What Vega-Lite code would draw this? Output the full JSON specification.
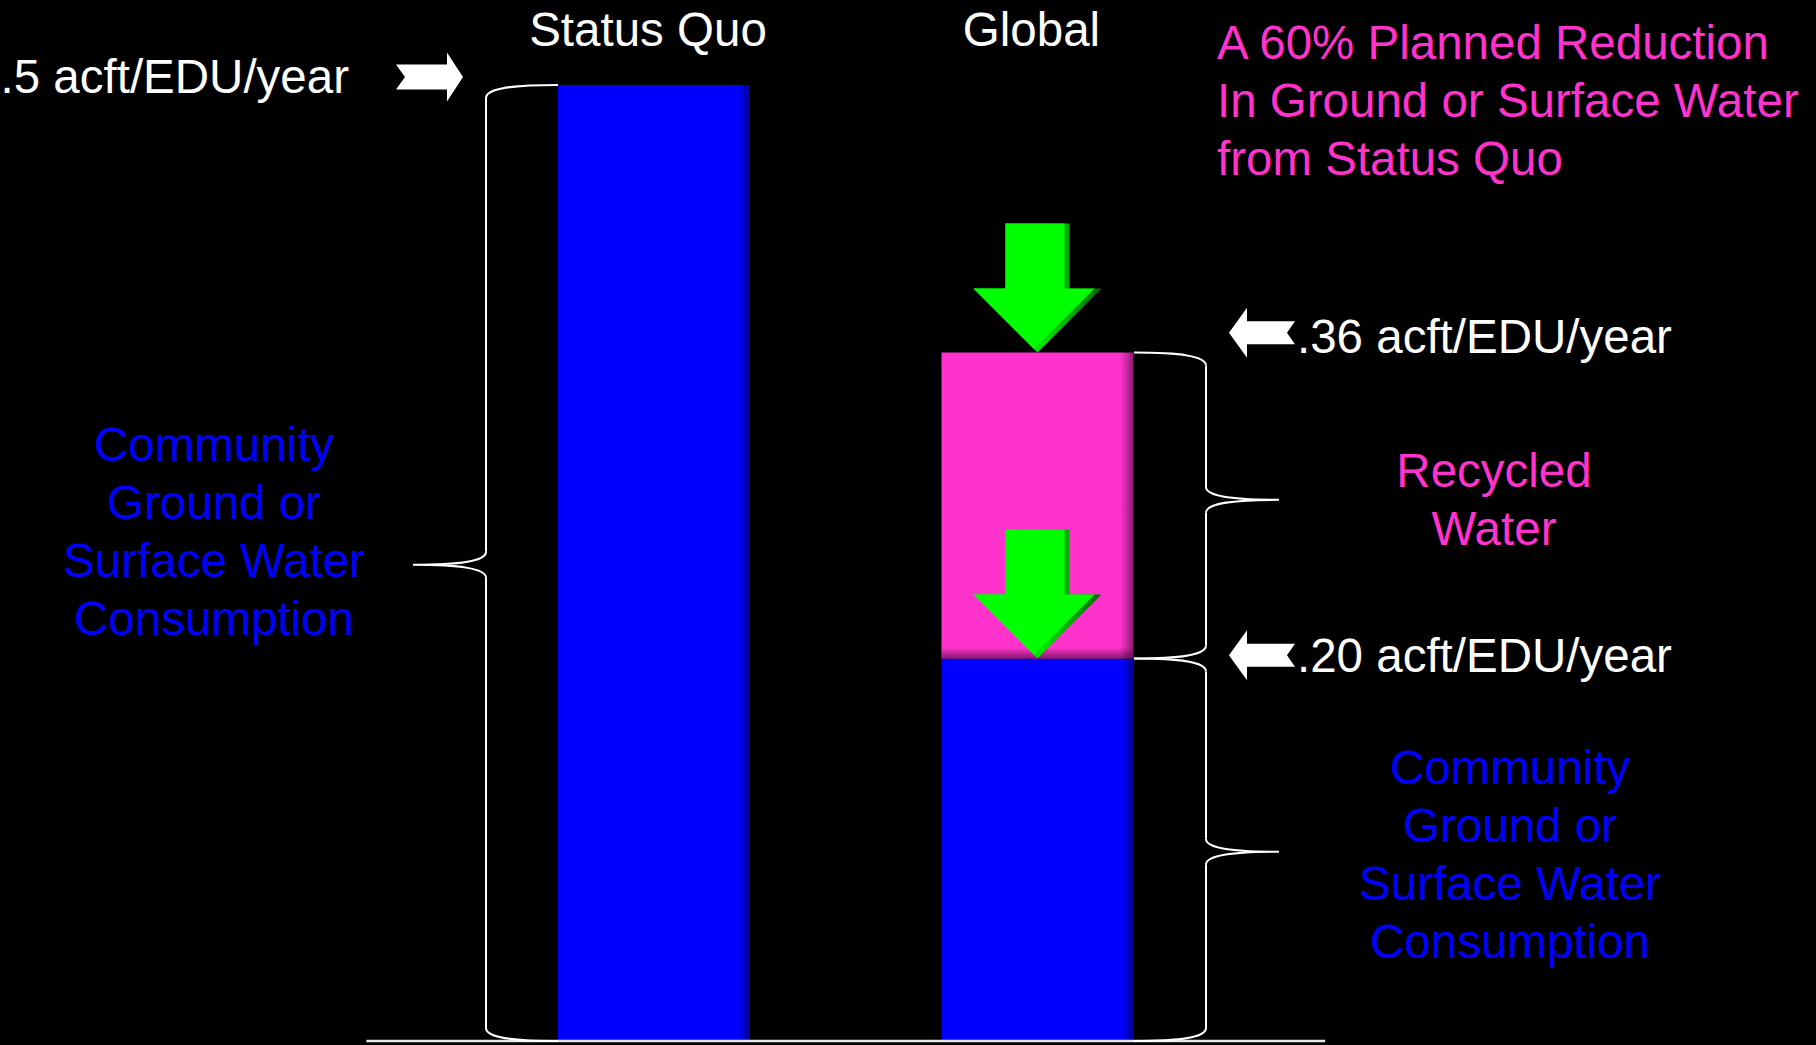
{
  "$schema": "https://vega.github.io/schema/vega-lite/v6.json",
  "width": 1816,
  "height": 1045,
  "autosize": {"type": "fit", "contains": "padding"},
  "padding": 0,
  "background": "#000000",
  "config": {
    "view": {"stroke": null},
    "axis": {"disable": true},
    "text": {"font": "Liberation Sans", "fontSize": 47.5, "baseline": "alphabetic", "lineHeight": 58}
  },
  "resolve": {"scale": {"shape": "independent"}},
  "datasets": {
    "water": [
      {"scenario": "Status Quo", "slot": 1, "source": "Community Ground or Surface Water", "low": 0, "high": 0.5},
      {"scenario": "Global", "slot": 2, "source": "Community Ground or Surface Water", "low": 0, "high": 0.2},
      {"scenario": "Global", "slot": 2, "source": "Recycled Water", "low": 0.2, "high": 0.36}
    ],
    "braces": [
      {"bar": "Status Quo", "side": "left", "lo": 0, "hi": 0.5, "tip": 0.249},
      {"bar": "Global", "side": "right", "lo": 0.2, "hi": 0.36, "tip": 0.283},
      {"bar": "Global", "side": "right", "lo": 0, "hi": 0.2, "tip": 0.099}
    ]
  },
  "layer": [
    {
      "data": {"name": "water"},
      "transform": [{"filter": "datum.source === 'Community Ground or Surface Water'"}],
      "mark": {
        "type": "bar", "width": 192, "strokeWidth": 0,
        "fill": {"gradient": "linear", "x1": 0, "y1": 0, "x2": 1, "y2": 0,
          "stops": [{"offset": 0, "color": "#0000ff"}, {"offset": 0.94, "color": "#0000ff"}, {"offset": 1, "color": "#00008c"}]}
      },
      "encoding": {
        "x": {"field": "slot", "type": "quantitative", "scale": {"domain": [-0.70535, 4.03], "nice": false, "zero": false, "padding": 0}},
        "y": {"field": "high", "type": "quantitative", "scale": {"domain": [-0.00157, 0.54441], "nice": false, "zero": false, "padding": 0}},
        "y2": {"field": "low"}
      }
    },
    {
      "data": {"name": "water"},
      "transform": [{"filter": "datum.source === 'Recycled Water'"}],
      "mark": {
        "type": "bar", "width": 192, "strokeWidth": 0,
        "fill": {"gradient": "linear", "x1": 0, "y1": 0, "x2": 1, "y2": 0,
          "stops": [{"offset": 0, "color": "#ff33cc"}, {"offset": 0.93, "color": "#ff33cc"}, {"offset": 1, "color": "#8e1c74"}]}
      },
      "encoding": {
        "x": {"field": "slot", "type": "quantitative", "scale": {"domain": [-0.70535, 4.03], "nice": false, "zero": false, "padding": 0}},
        "y": {"field": "high", "type": "quantitative", "scale": {"domain": [-0.00157, 0.54441], "nice": false, "zero": false, "padding": 0}},
        "y2": {"field": "low"}
      }
    },
    {
      "data": {"name": "water"},
      "transform": [{"filter": "datum.source === 'Recycled Water'"}],
      "mark": {
        "type": "bar", "width": 192, "strokeWidth": 0,
        "fill": {"gradient": "linear", "x1": 0, "y1": 0, "x2": 0, "y2": 1,
          "stops": [{"offset": 0, "color": "rgba(0,0,0,0)"}, {"offset": 0.965, "color": "rgba(0,0,0,0)"}, {"offset": 1, "color": "rgba(50,0,40,0.55)"}]}
      },
      "encoding": {
        "x": {"field": "slot", "type": "quantitative", "scale": {"domain": [-0.70535, 4.03], "nice": false, "zero": false, "padding": 0}},
        "y": {"field": "high", "type": "quantitative", "scale": {"domain": [-0.00157, 0.54441], "nice": false, "zero": false, "padding": 0}},
        "y2": {"field": "low"}
      }
    },
    {
      "data": {"values": [{}]},
      "mark": {"type": "rule", "color": "#e6e6e6", "strokeWidth": 2.5},
      "encoding": {
        "x": {"datum": 0.25, "type": "quantitative", "scale": {"domain": [-0.70535, 4.03], "nice": false, "zero": false, "padding": 0}},
        "x2": {"datum": 2.75},
        "y": {"datum": 0, "type": "quantitative", "scale": {"domain": [-0.00157, 0.54441], "nice": false, "zero": false, "padding": 0}}
      }
    },
    {
      "data": {"name": "water"},
      "transform": [{"filter": "datum.scenario === 'Global'"}],
      "mark": {"type": "point", "shape": "M-32,-129 L32,-129 L32,-64 L64,-64 L0,0 L-64,-64 L-32,-64 Z", "size": 4, "filled": true, "opacity": 1, "strokeWidth": 0,
        "fill": {"gradient": "linear", "x1": 0, "y1": 0, "x2": 1, "y2": 0,
          "stops": [{"offset": 0, "color": "#00ff00"}, {"offset": 0.55, "color": "#00e000"}, {"offset": 1, "color": "#006a00"}]}},
      "encoding": {
        "x": {"field": "slot", "type": "quantitative", "scale": {"domain": [-0.70535, 4.03], "nice": false, "zero": false, "padding": 0}},
        "y": {"field": "high", "type": "quantitative", "scale": {"domain": [-0.00157, 0.54441], "nice": false, "zero": false, "padding": 0}}
      }
    },
    {
      "data": {"name": "water"},
      "transform": [{"filter": "datum.scenario === 'Global'"}],
      "mark": {"type": "point", "shape": "M-32,-129 L27,-129 L27,-64 L57,-64 L-3.5,-3.5 L-64,-64 L-32,-64 Z", "size": 4, "filled": true, "fill": "#00ff00", "opacity": 1, "strokeWidth": 0},
      "encoding": {
        "x": {"field": "slot", "type": "quantitative", "scale": {"domain": [-0.70535, 4.03], "nice": false, "zero": false, "padding": 0}},
        "y": {"field": "high", "type": "quantitative", "scale": {"domain": [-0.00157, 0.54441], "nice": false, "zero": false, "padding": 0}}
      }
    },
    {
      "data": {"name": "braces"},
      "transform": [{"filter": "datum.side === 'left'"}, {"fold": ["hi", "tip", "lo"], "as": ["part", "level"]}],
      "mark": {"type": "point", "size": 4, "filled": false, "fill": null, "stroke": "#ffffff", "strokeWidth": 2, "opacity": 1},
      "encoding": {
        "x": {"datum": 0.7497, "type": "quantitative", "scale": {"domain": [-0.70535, 4.03], "nice": false, "zero": false, "padding": 0}},
        "y": {"field": "level", "type": "quantitative", "scale": {"domain": [-0.00157, 0.54441], "nice": false, "zero": false, "padding": 0}},
        "shape": {"field": "part", "type": "nominal", "legend": null,
          "scale": {"domain": ["hi", "tip", "lo"], "range": ["M0,0 C-45,0 -72,3 -72,13", "M-72,-13 C-72,-3 -100,0 -145,0 C-100,0 -72,3 -72,13", "M0,0 C-45,0 -72,-3 -72,-13"]}}
      }
    },
    {
      "data": {"name": "braces"},
      "transform": [{"filter": "datum.side === 'left'"}],
      "mark": {"type": "rule", "color": "#ffffff", "strokeWidth": 2, "yOffset": 13, "y2Offset": -13},
      "encoding": {
        "x": {"datum": 0.56193, "type": "quantitative", "scale": {"domain": [-0.70535, 4.03], "nice": false, "zero": false, "padding": 0}},
        "y": {"field": "hi", "type": "quantitative", "scale": {"domain": [-0.00157, 0.54441], "nice": false, "zero": false, "padding": 0}},
        "y2": {"field": "tip"}
      }
    },
    {
      "data": {"name": "braces"},
      "transform": [{"filter": "datum.side === 'left'"}],
      "mark": {"type": "rule", "color": "#ffffff", "strokeWidth": 2, "yOffset": 13, "y2Offset": -13},
      "encoding": {
        "x": {"datum": 0.56193, "type": "quantitative", "scale": {"domain": [-0.70535, 4.03], "nice": false, "zero": false, "padding": 0}},
        "y": {"field": "tip", "type": "quantitative", "scale": {"domain": [-0.00157, 0.54441], "nice": false, "zero": false, "padding": 0}},
        "y2": {"field": "lo"}
      }
    },
    {
      "data": {"name": "braces"},
      "transform": [{"filter": "datum.side === 'right'"}, {"fold": ["hi", "tip", "lo"], "as": ["part", "level"]}],
      "mark": {"type": "point", "size": 4, "filled": false, "fill": null, "stroke": "#ffffff", "strokeWidth": 2, "opacity": 1},
      "encoding": {
        "x": {"datum": 2.2515, "type": "quantitative", "scale": {"domain": [-0.70535, 4.03], "nice": false, "zero": false, "padding": 0}},
        "y": {"field": "level", "type": "quantitative", "scale": {"domain": [-0.00157, 0.54441], "nice": false, "zero": false, "padding": 0}},
        "shape": {"field": "part", "type": "nominal", "legend": null,
          "scale": {"domain": ["hi", "tip", "lo"], "range": ["M0,0 C45,0 72,3 72,13", "M72,-13 C72,-3 100,0 145,0 C100,0 72,3 72,13", "M0,0 C45,0 72,-3 72,-13"]}}
      }
    },
    {
      "data": {"name": "braces"},
      "transform": [{"filter": "datum.side === 'right'"}],
      "mark": {"type": "rule", "color": "#ffffff", "strokeWidth": 2, "yOffset": 13, "y2Offset": -13},
      "encoding": {
        "x": {"datum": 2.43937, "type": "quantitative", "scale": {"domain": [-0.70535, 4.03], "nice": false, "zero": false, "padding": 0}},
        "y": {"field": "hi", "type": "quantitative", "scale": {"domain": [-0.00157, 0.54441], "nice": false, "zero": false, "padding": 0}},
        "y2": {"field": "tip"}
      }
    },
    {
      "data": {"name": "braces"},
      "transform": [{"filter": "datum.side === 'right'"}],
      "mark": {"type": "rule", "color": "#ffffff", "strokeWidth": 2, "yOffset": 13, "y2Offset": -13},
      "encoding": {
        "x": {"datum": 2.43937, "type": "quantitative", "scale": {"domain": [-0.70535, 4.03], "nice": false, "zero": false, "padding": 0}},
        "y": {"field": "tip", "type": "quantitative", "scale": {"domain": [-0.00157, 0.54441], "nice": false, "zero": false, "padding": 0}},
        "y2": {"field": "lo"}
      }
    },
    {
      "data": {"values": [{}]},
      "mark": {"type": "point", "shape": "M0,0 L-16,-24.5 L-16,-12.5 L-67,-12.5 L-58,0 L-67,12.5 L-16,12.5 L-16,24.5 Z", "size": 4, "filled": true, "fill": "#ffffff", "opacity": 1, "strokeWidth": 0},
      "encoding": {
        "x": {"datum": 0.50196, "type": "quantitative", "scale": {"domain": [-0.70535, 4.03], "nice": false, "zero": false, "padding": 0}},
        "y": {"datum": 0.50418, "type": "quantitative", "scale": {"domain": [-0.00157, 0.54441], "nice": false, "zero": false, "padding": 0}}
      }
    },
    {
      "data": {"values": [{}]},
      "mark": {"type": "point", "shape": "M0,0 L18,-25 L18,-11.5 L66,-11.5 L58,0 L66,11.5 L18,11.5 L18,25 Z", "size": 4, "filled": true, "fill": "#ffffff", "opacity": 1, "strokeWidth": 0},
      "encoding": {
        "x": {"datum": 2.49935, "type": "quantitative", "scale": {"domain": [-0.70535, 4.03], "nice": false, "zero": false, "padding": 0}},
        "y": {"datum": 0.37043, "type": "quantitative", "scale": {"domain": [-0.00157, 0.54441], "nice": false, "zero": false, "padding": 0}}
      }
    },
    {
      "data": {"values": [{}]},
      "mark": {"type": "point", "shape": "M0,0 L18,-25 L18,-11.5 L66,-11.5 L58,0 L66,11.5 L18,11.5 L18,25 Z", "size": 4, "filled": true, "fill": "#ffffff", "opacity": 1, "strokeWidth": 0},
      "encoding": {
        "x": {"datum": 2.49935, "type": "quantitative", "scale": {"domain": [-0.70535, 4.03], "nice": false, "zero": false, "padding": 0}},
        "y": {"datum": 0.20167, "type": "quantitative", "scale": {"domain": [-0.00157, 0.54441], "nice": false, "zero": false, "padding": 0}}
      }
    },
    {
      "data": {"name": "water"},
      "transform": [{"filter": "datum.source === 'Community Ground or Surface Water'"}],
      "mark": {"type": "text", "color": "#ffffff", "align": "center", "dx": -6},
      "encoding": {
        "x": {"field": "slot", "type": "quantitative", "scale": {"domain": [-0.70535, 4.03], "nice": false, "zero": false, "padding": 0}},
        "y": {"datum": 0.52038, "type": "quantitative", "scale": {"domain": [-0.00157, 0.54441], "nice": false, "zero": false, "padding": 0}},
        "text": {"field": "scenario"}
      }
    },
    {
      "data": {"values": [{}]},
      "mark": {"type": "text", "color": "#ffffff", "align": "right"},
      "encoding": {
        "x": {"datum": 0.20469, "type": "quantitative", "scale": {"domain": [-0.70535, 4.03], "nice": false, "zero": false, "padding": 0}},
        "y": {"datum": 0.49582, "type": "quantitative", "scale": {"domain": [-0.00157, 0.54441], "nice": false, "zero": false, "padding": 0}},
        "text": {"value": ".5 acft/EDU/year"}
      }
    },
    {
      "data": {"values": [{}]},
      "mark": {"type": "text", "color": "#ffffff", "align": "left"},
      "encoding": {
        "x": {"datum": 2.67666, "type": "quantitative", "scale": {"domain": [-0.70535, 4.03], "nice": false, "zero": false, "padding": 0}},
        "y": {"datum": 0.35998, "type": "quantitative", "scale": {"domain": [-0.00157, 0.54441], "nice": false, "zero": false, "padding": 0}},
        "text": {"value": ".36 acft/EDU/year"}
      }
    },
    {
      "data": {"values": [{}]},
      "mark": {"type": "text", "color": "#ffffff", "align": "left"},
      "encoding": {
        "x": {"datum": 2.67666, "type": "quantitative", "scale": {"domain": [-0.70535, 4.03], "nice": false, "zero": false, "padding": 0}},
        "y": {"datum": 0.19279, "type": "quantitative", "scale": {"domain": [-0.00157, 0.54441], "nice": false, "zero": false, "padding": 0}},
        "text": {"value": ".20 acft/EDU/year"}
      }
    },
    {
      "data": {"values": [{}]},
      "mark": {"type": "text", "color": "#ff33cc", "align": "left"},
      "encoding": {
        "x": {"datum": 2.4681, "type": "quantitative", "scale": {"domain": [-0.70535, 4.03], "nice": false, "zero": false, "padding": 0}},
        "y": {"datum": 0.51358, "type": "quantitative", "scale": {"domain": [-0.00157, 0.54441], "nice": false, "zero": false, "padding": 0}},
        "text": {"value": ["A 60% Planned Reduction", "In Ground or Surface Water", "from Status Quo"]}
      }
    },
    {
      "data": {"values": [{}]},
      "mark": {"type": "text", "color": "#ff33cc", "align": "center"},
      "encoding": {
        "x": {"datum": 3.19035, "type": "quantitative", "scale": {"domain": [-0.70535, 4.03], "nice": false, "zero": false, "padding": 0}},
        "y": {"datum": 0.28997, "type": "quantitative", "scale": {"domain": [-0.00157, 0.54441], "nice": false, "zero": false, "padding": 0}},
        "text": {"value": ["Recycled", "Water"]}
      }
    },
    {
      "data": {"values": [{}]},
      "mark": {"type": "text", "color": "#0000ff", "align": "center"},
      "encoding": {
        "x": {"datum": -0.14733, "type": "quantitative", "scale": {"domain": [-0.70535, 4.03], "nice": false, "zero": false, "padding": 0}},
        "y": {"datum": 0.30355, "type": "quantitative", "scale": {"domain": [-0.00157, 0.54441], "nice": false, "zero": false, "padding": 0}},
        "text": {"value": ["Community", "Ground or", "Surface Water", "Consumption"]}
      }
    },
    {
      "data": {"values": [{}]},
      "mark": {"type": "text", "color": "#0000ff", "align": "center"},
      "encoding": {
        "x": {"datum": 3.23207, "type": "quantitative", "scale": {"domain": [-0.70535, 4.03], "nice": false, "zero": false, "padding": 0}},
        "y": {"datum": 0.13427, "type": "quantitative", "scale": {"domain": [-0.00157, 0.54441], "nice": false, "zero": false, "padding": 0}},
        "text": {"value": ["Community", "Ground or", "Surface Water", "Consumption"]}
      }
    }
  ]
}
